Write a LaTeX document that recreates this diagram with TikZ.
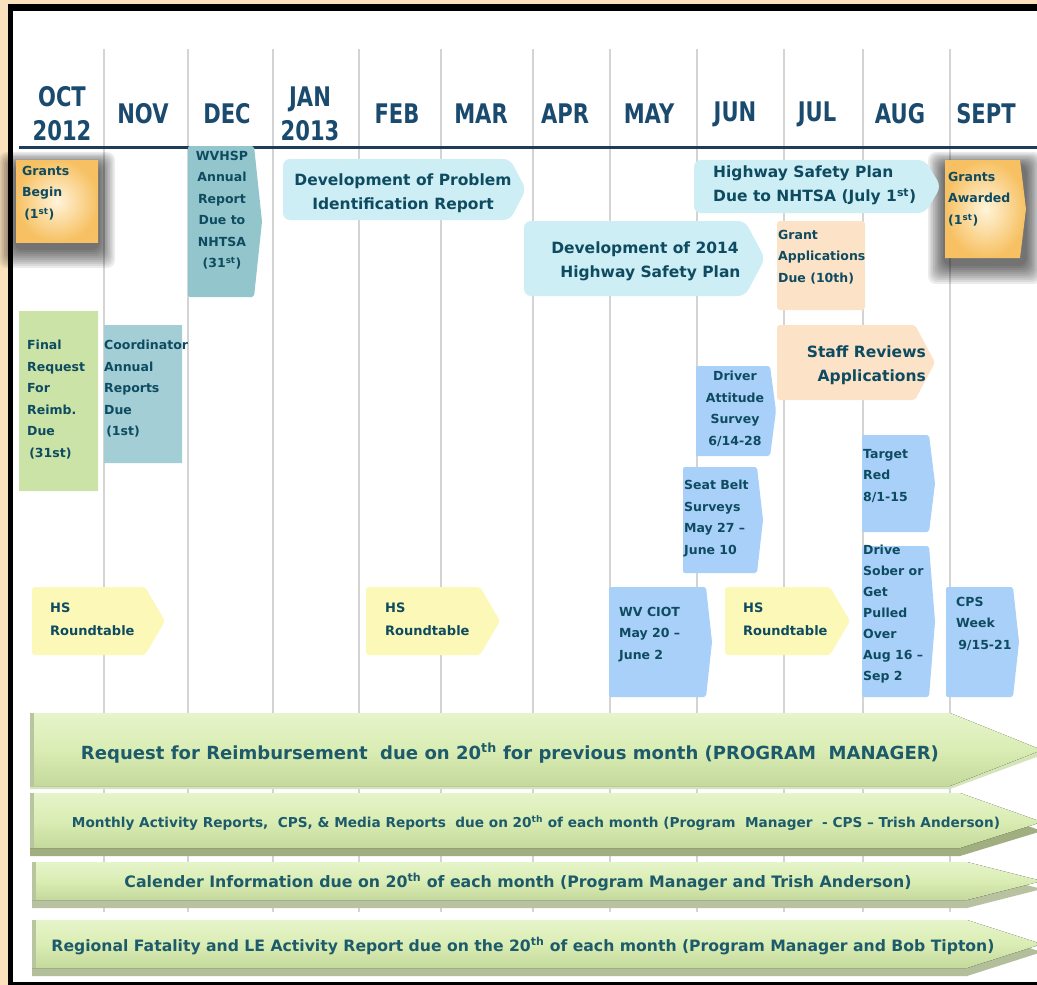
\documentclass[tikz,border=0pt]{standalone}
\usepackage{fontspec}
\usepackage{graphicx}
\setmainfont{DejaVu Sans}
\newfontfamily\mfont{DejaVu Sans Bold}[FakeStretch=0.78]
\definecolor{peach}{HTML}{FBE2BC}
\definecolor{gridc}{HTML}{D4D4D4}
\definecolor{hdr}{HTML}{1F3D58}
\definecolor{monthc}{HTML}{1A4A6E}
\definecolor{boxtext}{HTML}{0E4B60}
\definecolor{tealA}{HTML}{93C6CC}
\definecolor{tealB}{HTML}{A3CED5}
\definecolor{greenbox}{HTML}{CCE3A8}
\definecolor{cyanbox}{HTML}{CDEEF4}
\definecolor{peachbox}{HTML}{FCE3C8}
\definecolor{yellowbox}{HTML}{FBF8B8}
\definecolor{bluebox}{HTML}{A8D0F8}
\definecolor{orangeOut}{HTML}{F7C163}
\definecolor{orangeIn}{HTML}{FFF4DA}
\definecolor{barTop}{HTML}{E6F4CA}
\definecolor{barMid}{HTML}{DAEDB4}
\definecolor{barBot}{HTML}{C4D99C}
\definecolor{barShadow}{HTML}{A0AE80}
\definecolor{barLeft}{HTML}{B8C59E}
\definecolor{bartext}{HTML}{1D5B6C}
\newcommand\tlbox[6]{\fill[#6] (#1,#2) -- (#3,#2) -- ({#3+#5},{(#2+#4)/2}) -- (#3,#4) -- (#1,#4) -- cycle;}
\tikzset{
  gridline/.style={draw=gridc, line width=2pt},
  monthlbl/.style={font=\mfont\fontsize{27}{34}\selectfont, text=monthc, align=center, inner sep=0pt},
  lbl/.style={font=\fontsize{12.5}{21.5}\selectfont\bfseries, text=boxtext, align=left, inner sep=0pt, anchor=north west},
  biglbl/.style={font=\fontsize{15.5}{24}\selectfont\bfseries, text=boxtext, inner sep=0pt},
  barlbl/.style={font=\bfseries, text=bartext, inner sep=0pt},
  bluefill/.style={fill=bluebox, rounded corners=2pt},
  tealfillA/.style={fill=tealA, rounded corners=2pt},
  tealfillB/.style={fill=tealB},
  greenfill/.style={fill=greenbox},
  cyanfill/.style={fill=cyanbox, rounded corners=7pt},
  peachfill/.style={fill=peachbox, rounded corners=3pt},
  yellowfill/.style={fill=yellowbox, rounded corners=3pt},
  barfill/.style={top color=barTop, bottom color=barBot, middle color=barMid},
  shadowlayer/.style={fill=black, opacity=0.075, rounded corners=8pt},
}
\begin{document}
\begin{tikzpicture}[x=1pt,y=-1pt]
\useasboundingbox (0,0) rectangle (1037,985);
% frame
\fill[peach] (0,0) rectangle (1037,985);
\fill[black] (8,4) rectangle (1037,985);
\fill[white] (13,11) rectangle (1037,982);
% grid
\foreach \x in {104,188,273,359,441,533,610,697,784,863,950}
  \draw[gridline] (\x,49) -- (\x,912);
\draw[hdr, line width=3pt] (19,147) -- (1037,147);
% months
\node[monthlbl] (oct) at (62,114) {OCT\\2012};
\node[monthlbl] (nov) at (143,114) {NOV};
\node[monthlbl] (dec) at (227,114) {DEC};
\node[monthlbl] (jan) at (310,114) {JAN\\2013};
\node[monthlbl] (feb) at (397,114) {FEB};
\node[monthlbl] (mar) at (481,114) {MAR};
\node[monthlbl] (apr) at (565,114) {APR};
\node[monthlbl] (may) at (649,114) {MAY};
\node[monthlbl] (jun) at (735,114) {JUN};
\node[monthlbl] (jul) at (817,114) {JUL};
\node[monthlbl] (aug) at (900,114) {AUG};
\node[monthlbl] (sept) at (986,114) {SEPT};
% orange boxes with shadows
\foreach \i in {1,...,10}{
  \fill[shadowlayer] ({16-1.7*\i},{166-1.4*\i}) rectangle ({98+1.7*\i},{248+2.0*\i});
  \fill[shadowlayer] ({945-1.7*\i},{166-1.4*\i}) rectangle ({1025+1.7*\i},{264+2.0*\i});
}
\shade[inner color=orangeIn, outer color=orangeOut] (16,160) rectangle (98,242);
\shade[inner color=orangeIn, outer color=orangeOut] (945,160) -- (1020,160) -- (1026,209) -- (1020,258) -- (945,258) -- cycle;
\node[lbl] (grantsbegin) at (22,166) {Grants\\Begin\\ \,(1\textsuperscript{st})};
\node[lbl] (grantsawarded) at (948,172) {Grants\\Awarded\\(1\textsuperscript{st})};
% teal / green boxes
\tlbox{188}{146}{254}{297}{8}{tealfillA}
\node[lbl, anchor=north, align=center] (wvhsp) at (222,151) {WVHSP\\Annual\\Report\\Due to\\NHTSA\\(31\textsuperscript{st})};
\tlbox{19}{311}{98}{491}{0}{greenfill}
\node[lbl] (finalreq) at (27,340) {Final\\Request\\For\\Reimb.\\Due\\ \,(31st)};
\tlbox{104}{325}{182}{463}{0}{tealfillB}
\node[lbl] (coord) at (104,340) {Coordinator\\Annual\\Reports\\Due\\ \,(1st)};
% cyan arrows
\tlbox{283}{159}{510}{220}{16}{cyanfill}
\node[biglbl, align=center] (devprob) at (403,193) {Development of Problem\\Identification Report};
\tlbox{694}{160}{925}{213}{16}{cyanfill}
\node[biglbl, align=left, anchor=north west] (hspdue) at (713,166) {Highway Safety Plan\\Due to NHTSA (July 1\textsuperscript{st})};
\tlbox{524}{221}{745}{296}{20}{cyanfill}
\node[biglbl, align=center] (dev2014) at (645,261) {Development of 2014\\\ \ Highway Safety Plan};
% peach
\tlbox{777}{221}{865}{310}{0}{peachfill}
\node[lbl] (grantapp) at (778,230) {Grant\\Applications\\Due (10th)};
\tlbox{777}{325}{915}{400}{20}{peachfill}
\node[biglbl, align=right, anchor=east] (staff) at (926,365) {Staff Reviews\\Applications};
% blue events
\tlbox{696}{366}{770}{456}{6}{bluefill}
\node[lbl, anchor=north, align=center] (driver) at (735,371) {Driver\\Attitude\\Survey\\6/14-28};
\tlbox{683}{467}{757}{573}{6}{bluefill}
\node[lbl] (seatbelt) at (684,480) {Seat Belt\\Surveys\\May 27 --\\June 10};
\tlbox{862}{435}{929}{532}{6}{bluefill}
\node[lbl] (target) at (863,449) {Target\\Red\\8/1-15};
\tlbox{862}{546}{929}{697}{6}{bluefill}
\node[lbl, font=\fontsize{12.5}{21}\selectfont\bfseries] (drive) at (863,545) {Drive\\Sober or\\Get\\Pulled\\Over\\Aug 16 --\\Sep 2};
\tlbox{609}{587}{706}{697}{6}{bluefill}
\node[lbl] (ciot) at (619,607) {WV CIOT\\May 20 --\\June 2};
\tlbox{946}{587}{1013}{697}{6}{bluefill}
\node[lbl] (cps) at (956,597) {CPS\\Week\\ \,9/15-21};
% roundtables
\tlbox{32}{587}{145}{655}{20}{yellowfill}
\node[lbl, font=\fontsize{13}{23}\selectfont\bfseries] (hs1) at (50,603) {HS\\Roundtable};
\tlbox{366}{587}{480}{655}{20}{yellowfill}
\node[lbl, font=\fontsize{13}{23}\selectfont\bfseries] (hs2) at (385,603) {HS\\Roundtable};
\tlbox{725}{587}{830}{655}{20}{yellowfill}
\node[lbl, font=\fontsize{13}{23}\selectfont\bfseries] (hs3) at (743,603) {HS\\Roundtable};
% bottom bars
\fill[barBot!70!white] (30,719) -- (950,719) -- (1042,755) -- (950,789) -- (30,789) -- cycle;
\fill[barfill] (30,713) -- (950,713) -- (1042,750) -- (950,786) -- (30,786) -- cycle;
\fill[barLeft] (30,713) rectangle (34,786);
\node[barlbl, font=\fontsize{17}{20}\selectfont\bfseries] (bar1) at (510,753) {\resizebox{858pt}{!}{Request for Reimbursement\ \ due on 20\textsuperscript{th} for previous month (PROGRAM\ \ MANAGER)}};

\fill[barShadow] (30,802) -- (960,802) -- (1042,831) -- (960,856) -- (30,856) -- cycle;
\fill[barfill] (30,793) -- (960,793) -- (1042,822) -- (960,848) -- (30,848) -- cycle;
\fill[barLeft] (30,793) rectangle (34,848);
\node[barlbl, font=\fontsize{12}{14}\selectfont\bfseries] (bar2) at (536,823) {\resizebox{928pt}{!}{Monthly Activity Reports,\ \ CPS, \& Media Reports\ \ due on 20\textsuperscript{th} of each month (Program\ \ Manager\ \ - CPS -- Trish Anderson)}};

\fill[barShadow!75!white] (32,870) -- (967,870) -- (1042,889) -- (967,908) -- (32,908) -- cycle;
\fill[barfill] (32,862) -- (967,862) -- (1042,881) -- (967,900) -- (32,900) -- cycle;
\fill[barLeft] (32,862) rectangle (36,900);
\node[barlbl, font=\fontsize{14.5}{17}\selectfont\bfseries] (bar3) at (518,882) {\resizebox{787pt}{!}{Calender Information due on 20\textsuperscript{th} of each month (Program Manager and Trish Anderson)}};

\fill[barShadow!80!white] (32,928) -- (967,928) -- (1042,952) -- (967,976) -- (32,976) -- cycle;
\fill[barfill] (32,920) -- (967,920) -- (1042,944) -- (967,968) -- (32,968) -- cycle;
\fill[barLeft] (32,920) rectangle (36,968);
\node[barlbl, font=\fontsize{14}{17}\selectfont\bfseries] (bar4) at (523,946) {\resizebox{943pt}{!}{Regional Fatality and LE Activity Report due on the 20\textsuperscript{th} of each month (Program Manager and Bob Tipton)}};
\end{tikzpicture}
\end{document}
